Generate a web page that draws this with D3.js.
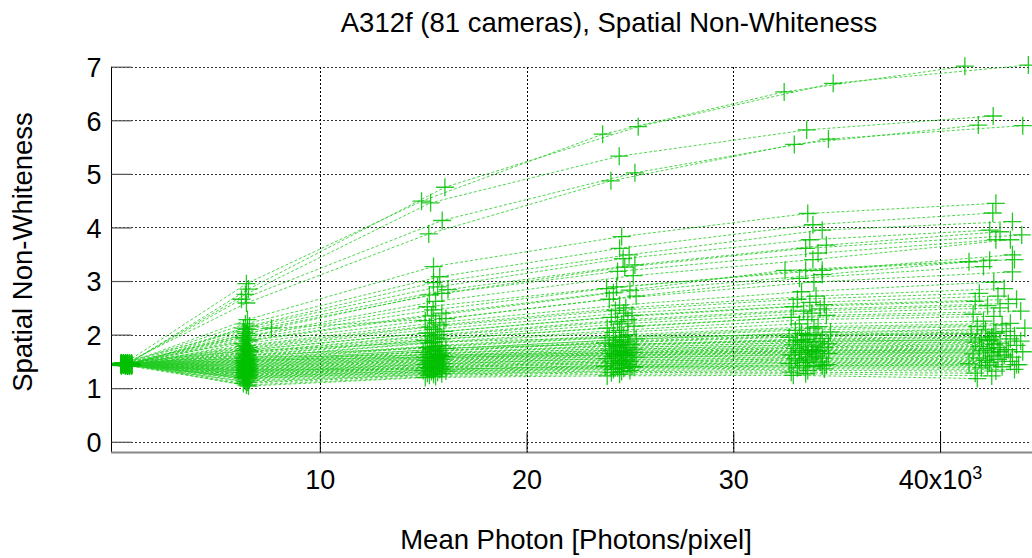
<!DOCTYPE html>
<html><head><meta charset="utf-8">
<script src="https://cdn.jsdelivr.net/npm/d3@7"></script>
<style>
body{margin:0;background:#fff}
svg{display:block}
text{font-family:"Liberation Sans",Arial,Helvetica,sans-serif;fill:#000}
</style>
</head><body>
<svg id="chart" width="1032" height="558"></svg>
<script>
const chartTitle = "A312f (81 cameras), Spatial Non-Whiteness";
const xLabel = "Mean Photon [Photons/pixel]";
const yLabel = "Spatial Non-Whiteness";
const xTicks = [10, 20, 30, 40];
const yTicks = [0, 1, 2, 3, 4, 5, 6, 7];

// mean photon level (x10^3) of each camera at its 6 exposure steps
const meanPhoton = [
[0.5,6.45,14.92,23.68,32.46,41.2],[0.8,6.55,16.05,25.4,34.83,44.27],[0.6,6.4,15.36,24.48,33.55,42.57],
[0.7,6.21,15.92,25.24,34.6,44.0],[0.4,6.45,15.27,24.08,32.95,41.85],[0.6,6.5,15.5,24.6,33.6,42.7],
[0.5,6.4,15.8,24.5,33.85,42.55],[0.7,6.6,15.5,24.96,34.3,43.5],[0.9,6.3,15.7,24.67,33.7,42.4],
[0.4,6.5,16.2,25.24,34.5,42.9],[0.6,6.35,15.9,24.75,33.5,43.95],[0.8,6.45,15.3,24.4,34.1,42.7],
[0.5,6.55,15.6,25.16,33.85,43.4],[0.7,6.3,15.2,24.35,34.3,43.5],[0.4,6.4,15.48,23.87,33.5,43.6],
[0.6,6.6,15.9,25.0,32.5,42.4],[0.9,6.5,15.4,24.2,34.3,41.4],[0.5,7.66,16.1,25.3,33.2,42.1],
[0.7,6.25,15.1,24.0,33.9,43.5],[0.6,6.45,15.6,24.5,33.3,42.6],[0.8,6.35,15.8,24.8,34.0,43.1],
[0.4,6.55,15.3,24.3,33.1,41.9],[0.6,6.4,15.5,24.7,33.7,42.8],[0.7,6.5,16.0,25.1,34.4,43.7],
[0.5,6.3,15.2,24.1,32.9,41.7],[0.9,6.6,15.7,24.9,34.2,43.3],[0.6,6.45,15.4,24.4,33.4,42.3],
[0.4,6.35,15.6,24.6,33.8,42.9],[0.8,6.5,15.9,25.2,34.5,43.9],[0.5,6.4,15.1,23.9,32.8,41.6],
[0.7,6.55,15.5,24.5,33.6,42.6],[0.6,6.3,15.3,24.2,33.2,42.1],[0.4,6.45,15.8,24.9,34.1,43.4],
[0.8,6.6,15.6,24.7,33.9,43.0],[0.5,6.4,15.2,24.0,33.0,41.8],[0.7,6.5,16.1,25.3,34.7,44.1],
[0.6,6.35,15.4,24.3,33.3,42.2],[0.9,6.55,15.7,24.8,34.0,43.2],[0.4,6.45,15.5,24.6,33.7,42.7],
[0.6,6.3,15.0,23.8,32.7,41.5],[0.8,6.5,15.9,25.0,34.3,43.6],[0.5,6.4,15.6,24.5,33.5,42.5],
[0.7,6.6,15.3,24.2,33.1,42.0],[0.6,6.45,15.8,24.9,34.2,43.4],[0.4,6.35,15.4,24.4,33.4,42.4],
[0.8,6.55,16.0,25.2,34.6,43.9],[0.5,6.4,15.1,24.0,32.9,41.7],[0.7,6.5,15.7,24.7,33.9,42.9],
[0.6,6.3,15.5,24.5,33.6,42.6],[0.9,6.6,15.9,25.1,34.4,43.7],[0.4,6.45,15.2,24.1,33.0,41.9],
[0.6,6.4,15.6,24.6,33.8,42.8],[0.8,6.55,15.4,24.3,33.3,42.3],[0.5,6.35,15.8,24.8,34.1,43.3],
[0.7,6.5,15.3,24.2,33.2,42.1],[0.6,6.45,16.0,25.3,34.6,44.0],[0.4,6.6,15.5,24.4,33.5,42.5],
[0.8,6.3,15.1,23.9,32.8,41.6],[0.5,6.5,15.7,24.8,34.0,43.1],[0.7,6.4,15.4,24.5,33.6,42.6],
[0.6,6.55,15.9,25.0,34.3,43.5],[0.9,6.35,15.2,24.1,33.0,41.9],[0.4,6.45,15.6,24.6,33.7,42.8],
[0.6,6.6,15.3,24.3,33.2,42.2],[0.8,6.4,15.8,24.9,34.2,43.4],[0.5,6.5,15.5,24.5,33.5,42.4],
[0.7,6.3,15.0,23.8,32.7,41.4],[0.6,6.55,16.1,25.2,34.5,43.8],[0.4,6.45,15.4,24.4,33.4,42.3],
[0.8,6.35,15.7,24.7,33.9,43.0],[0.5,6.6,15.2,24.2,33.1,42.0],[0.7,6.4,15.9,25.0,34.4,43.6],
[0.6,6.5,15.5,24.6,33.6,42.7],[0.9,6.3,15.3,24.1,32.8,41.7],[0.4,6.45,15.6,24.5,33.5,42.5],
[0.6,6.55,15.1,23.9,32.9,41.8],[0.8,6.4,15.8,24.8,34.0,43.2],[0.5,6.5,15.4,24.3,33.3,42.3],
[0.7,6.35,15.7,24.7,33.8,42.9],[0.6,6.6,15.5,24.5,33.6,42.6],[0.4,6.45,15.9,25.1,34.3,43.7]
];

// spatial non-whiteness of each camera at the same steps
const nonWhiteness = [
[1.45,2.95,4.49,5.74,6.53,7.01],[1.47,2.85,4.75,5.88,6.69,7.03],[1.44,2.75,4.46,5.33,5.82,6.08],
[1.46,2.66,4.13,5.02,5.65,5.90],[1.43,2.59,3.88,4.87,5.55,5.91],[1.46,2.28,3.27,3.83,4.26,4.45],
[1.44,2.20,3.08,3.61,4.05,4.27],[1.45,2.16,2.97,3.49,3.95,4.11],[1.42,2.12,2.89,3.42,3.77,3.95],
[1.47,2.10,2.84,3.30,3.67,3.92],[1.43,2.05,2.77,3.26,3.61,3.86],[1.45,2.02,2.74,3.18,3.52,3.77],
[1.46,1.98,2.62,3.10,3.40,3.77],[1.44,1.95,2.52,2.89,3.20,3.49],[1.43,1.92,2.46,2.86,3.20,3.40],
[1.45,1.90,2.40,2.83,3.20,3.39],[1.47,1.88,2.35,2.78,3.12,3.36],[1.44,2.12,2.30,2.72,3.05,3.27],
[1.42,1.83,2.26,2.66,2.98,3.17],[1.45,1.80,2.22,2.55,2.80,2.98],[1.43,1.78,2.18,2.50,2.72,2.86],
[1.46,1.76,2.14,2.45,2.66,2.77],[1.44,1.74,2.10,2.40,2.60,2.72],[1.42,1.72,2.06,2.36,2.56,2.66],
[1.47,1.70,2.03,2.32,2.52,2.62],[1.45,1.68,2.00,2.28,2.48,2.58],[1.43,1.66,1.97,2.24,2.44,2.54],
[1.44,1.64,1.94,2.20,2.40,2.50],[1.46,1.62,1.92,2.16,2.36,2.44],[1.45,1.60,1.89,2.12,2.32,2.38],
[1.43,1.58,1.86,2.08,2.28,2.34],[1.44,1.56,1.84,2.04,2.20,2.25],[1.46,1.55,1.80,2.00,2.15,2.21],
[1.43,1.54,1.78,1.97,2.12,2.18],[1.45,1.52,1.76,1.94,2.08,2.15],[1.47,1.51,1.74,1.92,2.05,2.12],
[1.42,1.50,1.72,1.90,2.02,2.09],[1.44,1.49,1.70,1.88,2.00,2.06],[1.46,1.48,1.69,1.86,1.98,2.03],
[1.45,1.47,1.67,1.84,1.95,2.01],[1.43,1.46,1.66,1.82,1.93,1.98],[1.44,1.45,1.64,1.80,1.91,1.96],
[1.46,1.44,1.63,1.78,1.89,1.94],[1.45,1.43,1.61,1.76,1.87,1.92],[1.42,1.42,1.60,1.75,1.85,1.90],
[1.44,1.41,1.59,1.73,1.83,1.88],[1.47,1.40,1.57,1.71,1.81,1.86],[1.43,1.39,1.56,1.70,1.79,1.84],
[1.45,1.38,1.55,1.68,1.77,1.82],[1.44,1.37,1.54,1.67,1.76,1.80],[1.46,1.36,1.52,1.65,1.74,1.78],
[1.43,1.35,1.51,1.64,1.72,1.76],[1.45,1.34,1.50,1.62,1.70,1.74],[1.44,1.33,1.49,1.61,1.69,1.72],
[1.42,1.32,1.47,1.59,1.67,1.70],[1.46,1.31,1.46,1.58,1.65,1.68],[1.45,1.30,1.45,1.56,1.63,1.66],
[1.43,1.29,1.44,1.55,1.62,1.64],[1.44,1.28,1.43,1.53,1.60,1.62],[1.47,1.27,1.41,1.52,1.58,1.60],
[1.45,1.26,1.40,1.50,1.56,1.58],[1.43,1.25,1.39,1.49,1.55,1.56],[1.44,1.24,1.38,1.47,1.53,1.54],
[1.46,1.23,1.37,1.46,1.51,1.52],[1.42,1.22,1.35,1.44,1.49,1.50],[1.45,1.21,1.34,1.43,1.48,1.48],
[1.44,1.20,1.33,1.41,1.46,1.46],[1.43,1.19,1.32,1.40,1.44,1.44],[1.46,1.18,1.31,1.38,1.42,1.42],
[1.45,1.17,1.30,1.37,1.40,1.40],[1.44,1.15,1.28,1.35,1.38,1.38],[1.42,1.13,1.27,1.33,1.36,1.35],
[1.45,1.11,1.26,1.31,1.33,1.32],[1.43,1.09,1.24,1.29,1.30,1.28],[1.44,1.06,1.22,1.26,1.27,1.23],
[1.46,1.04,1.20,1.23,1.24,1.18],[1.45,1.58,1.62,1.66,1.70,1.72],[1.44,1.62,1.75,1.82,1.88,1.90],
[1.43,1.52,1.58,1.62,1.66,1.68],[1.46,1.70,1.86,1.95,2.00,2.02],[1.45,1.34,1.36,1.40,1.42,1.44]
];

const svg = d3.select("#chart");
const L = 111, R = 1030, T = 66.7, B = 452.5;
const x = d3.scaleLinear().domain([-0.1, 44.35]).range([L, R]);
const y = d3.scaleLinear().domain([-0.2, 7]).range([B, T]);

// horizontal grid
svg.append("g").selectAll("line").data(yTicks).join("line")
  .attr("x1", L).attr("x2", R)
  .attr("y1", d => Math.round(y(d)) + 0.5).attr("y2", d => Math.round(y(d)) + 0.5)
  .attr("stroke", "#333").attr("stroke-width", 1).attr("stroke-dasharray", "2,2");
// vertical grid
svg.append("g").selectAll("line").data(xTicks).join("line")
  .attr("x1", d => Math.round(x(d)) + 0.5).attr("x2", d => Math.round(x(d)) + 0.5)
  .attr("y1", Math.round(y(7))).attr("y2", B)
  .attr("stroke", "#000").attr("stroke-width", 1).attr("stroke-dasharray", "2,2");

// series
const series = meanPhoton.map((xs, i) => xs.map((v, k) => [v, nonWhiteness[i][k]]));
const line = d3.line().x(d => x(d[0])).y(d => y(d[1]));
svg.append("g").selectAll("path").data(series).join("path")
  .attr("d", line).attr("fill", "none")
  .attr("stroke", "#22cc22").attr("stroke-opacity", 0.8)
  .attr("stroke-width", 1).attr("stroke-dasharray", "3,2");
svg.append("g").selectAll("path").data(series.flat()).join("path")
  .attr("d", d => `M${x(d[0]) - 9},${y(d[1])}H${x(d[0]) + 9}M${x(d[0])},${y(d[1]) - 9}V${y(d[1]) + 9}`)
  .attr("stroke", "#00c000").attr("stroke-opacity", 0.85).attr("stroke-width", 1.3).attr("fill", "none");

// axes
const yAxis = d3.axisLeft(y).tickValues(yTicks).tickSize(-20).tickPadding(30).tickFormat(d3.format("d"));
const gy = svg.append("g").attr("transform", `translate(${L + 0.5},0)`).call(yAxis);
gy.select(".domain").attr("d", `M0,${T}V${B}`).attr("stroke", "#000");
gy.selectAll(".tick line").attr("stroke", "#555").attr("stroke-width", 1.2);
gy.selectAll(".tick text").attr("font-size", 27).attr("font-family", "Liberation Sans, Arial, sans-serif").attr("x", -10).attr("dy", "0.36em");

const xAxis = d3.axisBottom(x).tickValues(xTicks).tickSize(-20).tickPadding(0).tickFormat(d => d === 40 ? "" : d);
const gx = svg.append("g").attr("transform", `translate(0,${B})`).call(xAxis);
gx.select(".domain").attr("d", `M${L},0H1032`).attr("stroke", "#888").attr("stroke-width", 2);
gx.selectAll(".tick line").attr("stroke", "#000");
gx.selectAll(".tick text").attr("font-size", 27).attr("font-family", "Liberation Sans, Arial, sans-serif").attr("y", 36).attr("dy", 0);
const t40 = gx.selectAll(".tick").filter(d => d === 40).select("text");
t40.append("tspan").text("40x10");
t40.append("tspan").text("3").attr("font-size", 18).attr("dy", -10);

// titles
svg.append("text").attr("x", 609).attr("y", 32).attr("text-anchor", "middle").attr("font-size", 27.5).text(chartTitle);
svg.append("text").attr("x", 576).attr("y", 549).attr("text-anchor", "middle").attr("font-size", 27.5).text(xLabel);
svg.append("text").attr("transform", "translate(32,252) rotate(-90)").attr("text-anchor", "middle").attr("font-size", 27.5).text(yLabel);
</script>
</body></html>
